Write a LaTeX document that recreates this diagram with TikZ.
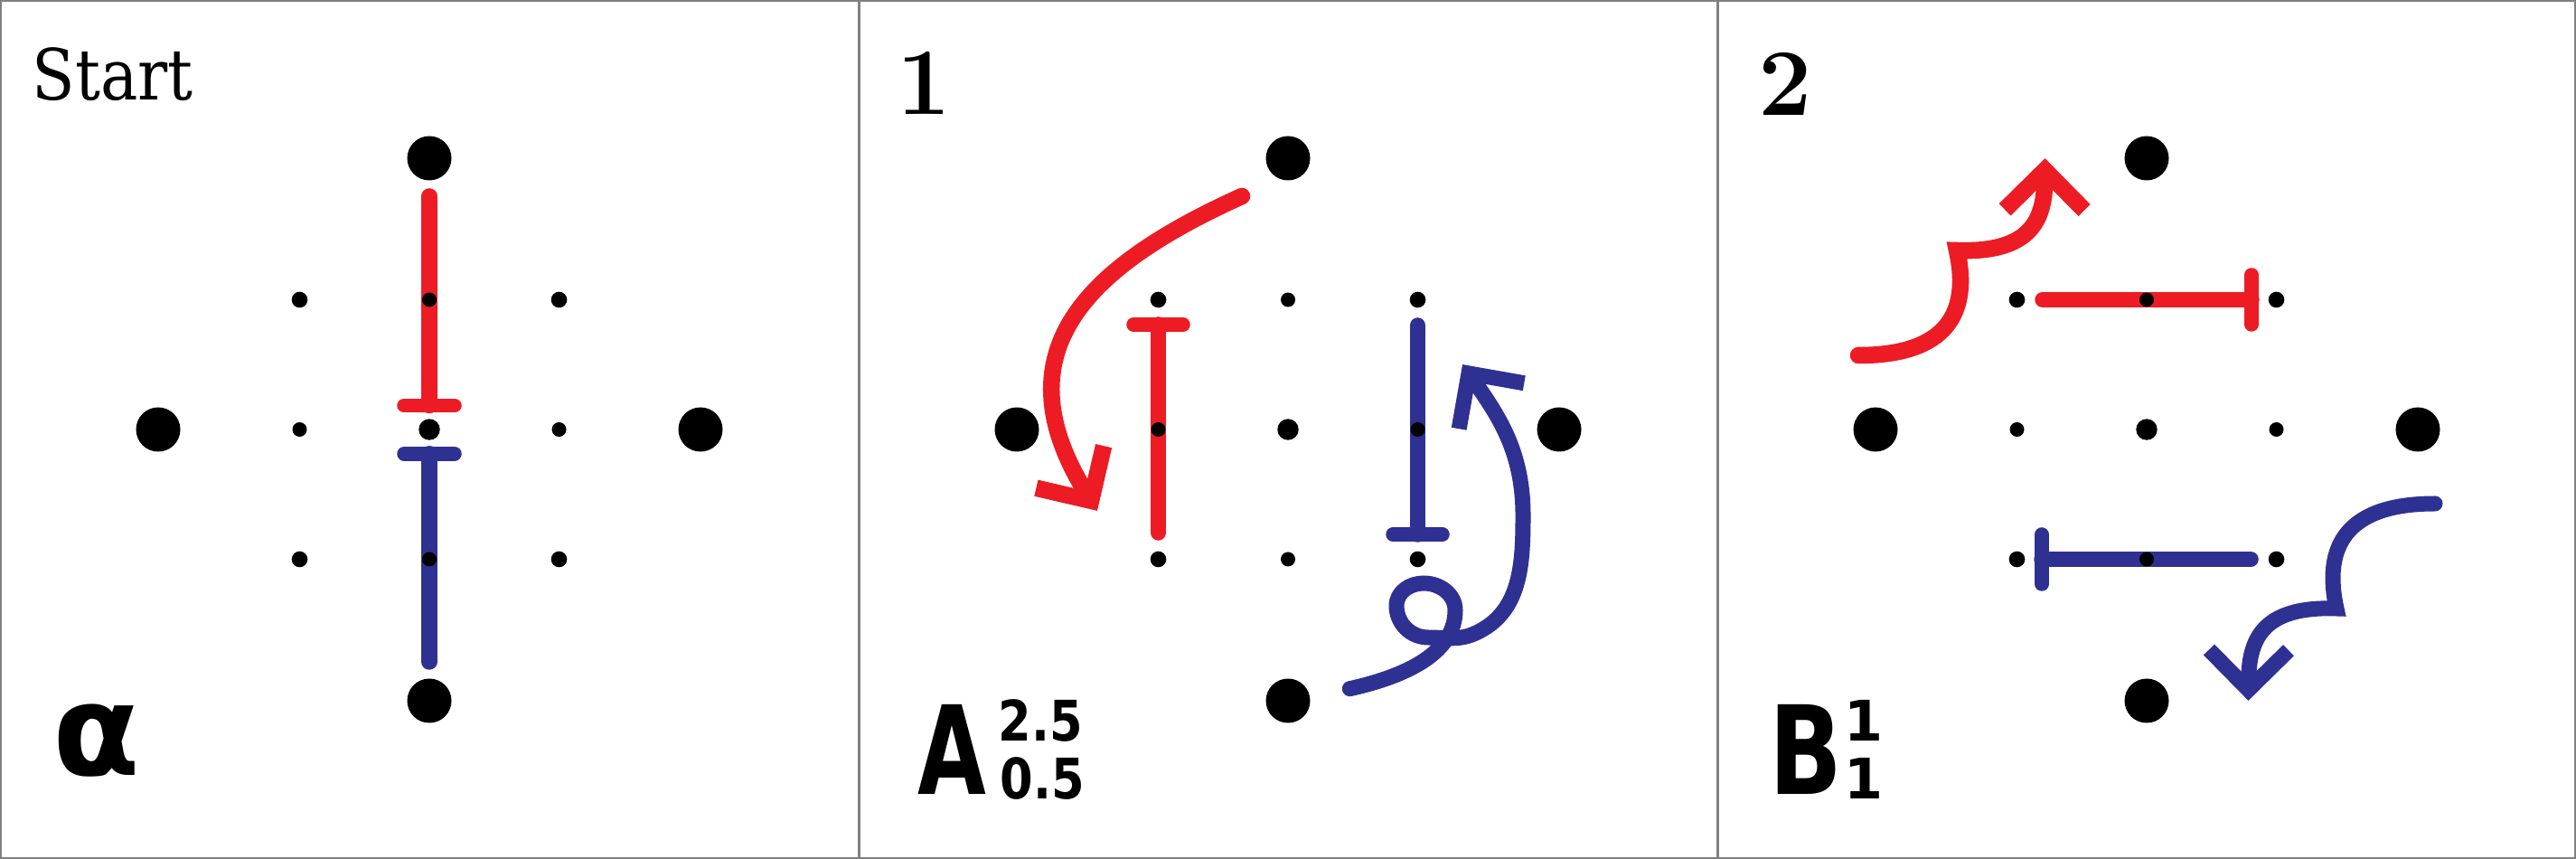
\documentclass[tikz,border=0pt]{standalone}
\usepackage{fontspec}
\newfontfamily\lblfont{DejaVu Sans}
\newfontfamily\titlefont{DejaVu Serif}
\usetikzlibrary{arrows.meta}
\definecolor{cred}{RGB}{237,28,36}
\definecolor{cblue}{RGB}{46,49,146}
\definecolor{cframe}{RGB}{128,128,128}
\tikzset{
  redline/.style={draw=cred, line width=1.75mm, line cap=round},
  blueline/.style={draw=cblue, line width=1.75mm, line cap=round},
  redbar/.style={draw=cred, line width=1.55mm, line cap=round},
  bluebar/.style={draw=cblue, line width=1.55mm, line cap=round},
  barbtip/.style={-{Straight Barb[length=4.4mm,width=8.8mm]}},
  redarrow/.style={draw=cred, line width=1.85mm, line cap=round, line join=miter, barbtip},
  bluearrow/.style={draw=cblue, line width=1.7mm, line cap=round, line join=miter, barbtip},
  panelframe/.style={draw=cframe, line width=0.4mm},
  divider/.style={draw=cframe, line width=0.3mm},
  titletxt/.style={anchor=base west, inner sep=0pt, font=\titlefont\fontsize{22.2}{26}\selectfont},
  numtxt/.style={anchor=base west, inner sep=0pt, font=\fontsize{30}{34}\selectfont\bfseries},
  lbltxt/.style={anchor=base west, inner sep=0pt, font=\lblfont\bfseries\fontsize{38.7}{44}\selectfont},
  alphatxt/.style={anchor=base west, inner sep=0pt, font=\lblfont\bfseries\fontsize{40}{44}\selectfont},
  idxtxt/.style={anchor=base west, inner sep=0pt, font=\lblfont\bfseries\fontsize{17.6}{20}\selectfont},
}
\newcommand\griddots{%
  \foreach \p in {(0,3),(0,-3),(-3,0),(3,0)} \fill \p circle (0.245);
  \fill (0,0) circle (0.117);
  \foreach \p in {(1.435,1.435),(-1.435,1.435),(1.435,-1.435),(-1.435,-1.435)} \fill \p circle (0.088);
  \foreach \p in {(0,1.435),(0,-1.435),(1.435,0),(-1.435,0)} \fill \p circle (0.08);
}
\begin{document}
\begin{tikzpicture}
\useasboundingbox (0,0) rectangle (28.5,9.5);
\fill[white] (0,0) rectangle (28.5,9.5);
\coordinate (d1b) at (9.5,0); \coordinate (d1t) at (9.5,9.5);
\coordinate (d2b) at (19,0); \coordinate (d2t) at (19,9.5);
\draw[panelframe] (0,0) rectangle (28.5,9.5);
\draw[divider] (d1b) -- (d1t);
\draw[divider] (d2b) -- (d2t);

% ---------- Panel 1 ----------
\begin{scope}[shift={(4.75,4.75)}]
  \draw[redline] (0,2.58) -- (0,0.265);
  \draw[redbar] (-0.28,0.265) -- (0.28,0.265);
  \draw[blueline] (0,-2.57) -- (0,-0.268);
  \draw[bluebar] (-0.28,-0.268) -- (0.28,-0.268);
  \griddots
\end{scope}

% ---------- Panel 2 ----------
\begin{scope}[shift={(14.25,4.75)}]
  \draw[redline] (-1.435,-1.14) -- (-1.435,1.16);
  \draw[redbar] (-1.71,1.16) -- (-1.16,1.16);
  \draw[blueline] (1.435,1.15) -- (1.435,-1.16);
  \draw[bluebar] (1.16,-1.16) -- (1.71,-1.16);
  \draw[redarrow] (-0.51,2.58) .. controls (-2.33,1.76) and (-3.17,0.80) .. (-2.11,-0.90);
  \draw[bluearrow] (0.683,-2.867) .. controls (1.35,-2.72) and (1.85,-2.45) .. (1.85,-2.0)
      to[out=90,in=0] (1.50,-1.70) to[out=180,in=90] (1.20,-1.95)
      to[out=-90,in=180] (1.55,-2.30) to[out=0,in=205] (2.08,-2.25)
      to[out=25,in=-90] (2.60,-0.95) to[out=90,in=-55] (1.93,0.72);
  \griddots
\end{scope}

% ---------- Panel 3 ----------
\begin{scope}[shift={(23.75,4.75)}]
  \draw[redline] (-1.15,1.435) -- (1.16,1.435);
  \draw[redbar] (1.16,1.16) -- (1.16,1.71);
  \draw[blueline] (1.15,-1.435) -- (-1.16,-1.435);
  \draw[bluebar] (-1.16,-1.16) -- (-1.16,-1.71);
  \draw[redarrow] (-3.19,0.82) .. controls (-2.2,0.82) and (-1.95,1.3) .. (-2.10,1.98)
        .. controls (-1.25,1.95) and (-1.13,2.35) .. (-1.125,3.0);
  \begin{scope}[rotate=180]
    \draw[bluearrow] (-3.19,0.82) .. controls (-2.2,0.82) and (-1.95,1.3) .. (-2.10,1.98)
          .. controls (-1.25,1.95) and (-1.13,2.35) .. (-1.125,3.0);
  \end{scope}
  \griddots
\end{scope}

% ---------- Labels ----------
\node[titletxt] (tstart) at (0.35,8.39) {\scalebox{0.89}[1]{Start}};
\node[numtxt] (tone) at (9.92,8.23) {1};
\node[numtxt] (ttwo) at (19.45,8.22) {2};
\node[alphatxt] (talpha) at (0.58,0.93) {α};
\node[lbltxt] (tA) at (10.15,0.71) {\scalebox{0.72}[1]{A}};
\node[idxtxt] (tAsup) at (11.04,1.30) {\scalebox{0.85}[1]{2.5}};
\node[idxtxt] (tAsub) at (11.06,0.66) {\scalebox{0.85}[1]{0.5}};
\node[lbltxt] (tB) at (19.57,0.71) {\scalebox{0.78}[1]{B}};
\node[idxtxt] (tBsup) at (20.40,1.30) {1};
\node[idxtxt] (tBsub) at (20.40,0.66) {1};
\end{tikzpicture}
\end{document}
